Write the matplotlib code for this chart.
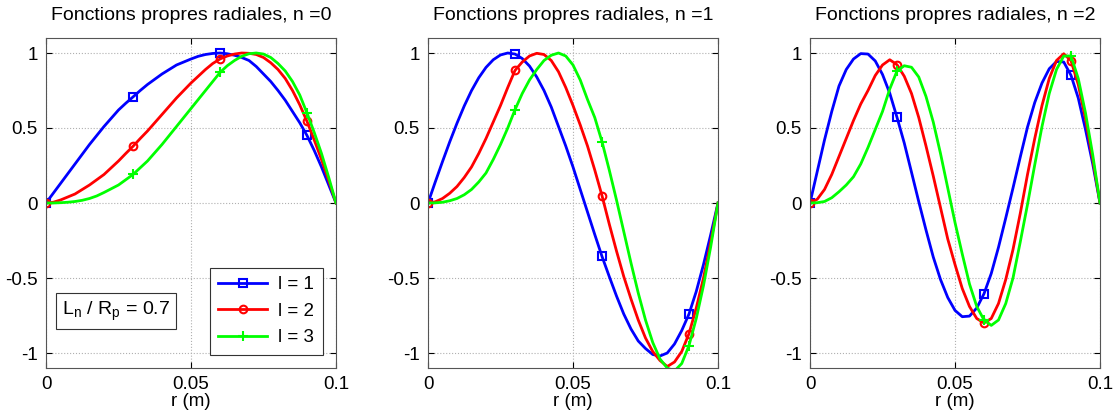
import matplotlib
matplotlib.use("Agg")
import matplotlib.pyplot as plt
import numpy as np

plt.rcParams['font.family'] = ['Liberation Sans', 'DejaVu Sans']

# radius samples (m), every 2.5 mm
r = np.linspace(0, 0.1, 41)
marker_r = [0, 0.03, 0.06, 0.09]

# n = 0
n0_l1 = [0, 0.065, 0.13, 0.195, 0.26, 0.325, 0.39, 0.45, 0.51, 0.565,
         0.62, 0.665, 0.707, 0.75, 0.79, 0.825, 0.86, 0.89, 0.92, 0.94,
         0.96, 0.978, 0.99, 0.997, 1.0, 0.995, 0.985, 0.97, 0.95, 0.91,
         0.86, 0.81, 0.75, 0.685, 0.61, 0.535, 0.45, 0.35, 0.24, 0.12,
         0]
n0_l2 = [0, 0.005, 0.02, 0.04, 0.06, 0.09, 0.12, 0.155, 0.19, 0.235,
         0.28, 0.33, 0.378, 0.43, 0.48, 0.535, 0.59, 0.645, 0.70, 0.75,
         0.80, 0.845, 0.89, 0.93, 0.96, 0.98, 0.993, 1.0, 0.998, 0.99,
         0.97, 0.935, 0.89, 0.83, 0.75, 0.655, 0.544, 0.42, 0.29, 0.15,
         0]
n0_l3 = [0, 0.0, 0.002, 0.005, 0.01, 0.018, 0.03, 0.047, 0.07, 0.095,
         0.12, 0.155, 0.19, 0.235, 0.28, 0.335, 0.39, 0.45, 0.51, 0.57,
         0.63, 0.69, 0.75, 0.81, 0.87, 0.915, 0.95, 0.978, 0.995, 1.0,
         0.993, 0.97, 0.93, 0.88, 0.81, 0.72, 0.60, 0.47, 0.33, 0.17,
         0]

# n = 1
n1_l1 = [0, 0.14, 0.276, 0.408, 0.532, 0.647, 0.749, 0.835, 0.904, 0.955,
         0.987, 1.0, 0.993, 0.963, 0.913, 0.84, 0.75, 0.64, 0.51, 0.38,
         0.24, 0.09, -0.06, -0.21, -0.356, -0.49, -0.62, -0.74, -0.84, -0.92,
         -0.97, -1.01, -1.02, -1.0, -0.94, -0.85, -0.74, -0.59, -0.41, -0.21,
         0]
n1_l2 = [0, 0.008, 0.03, 0.065, 0.11, 0.17, 0.24, 0.33, 0.43, 0.54,
         0.65, 0.77, 0.884, 0.94, 0.98, 0.998, 0.99, 0.95, 0.875, 0.77,
         0.65, 0.52, 0.38, 0.22, 0.049, -0.14, -0.32, -0.49, -0.64, -0.78,
         -0.90, -0.99, -1.05, -1.09, -1.06, -0.99, -0.871, -0.70, -0.50, -0.26,
         0]
n1_l3 = [0, 0.001, 0.005, 0.015, 0.03, 0.055, 0.09, 0.14, 0.20, 0.29,
         0.39, 0.50, 0.622, 0.73, 0.82, 0.89, 0.95, 0.985, 1.0, 0.98,
         0.92, 0.82, 0.69, 0.57, 0.409, 0.22, 0.02, -0.19, -0.40, -0.60,
         -0.78, -0.93, -1.04, -1.10, -1.12, -1.07, -0.95, -0.77, -0.55, -0.29,
         0]

# n = 2
n2_l1 = [0, 0.21, 0.42, 0.61, 0.78, 0.89, 0.96, 0.996, 0.993, 0.947,
         0.857, 0.732, 0.571, 0.40, 0.205, 0.009, -0.18, -0.36, -0.51, -0.63,
         -0.716, -0.758, -0.754, -0.70, -0.605, -0.47, -0.295, -0.10, 0.10, 0.306,
         0.506, 0.67, 0.80, 0.895, 0.943, 0.94, 0.851, 0.70, 0.49, 0.26,
         0]
n2_l2 = [0, 0.025, 0.09, 0.19, 0.31, 0.43, 0.55, 0.66, 0.75, 0.85,
         0.92, 0.955, 0.922, 0.845, 0.73, 0.57, 0.38, 0.18, -0.03, -0.24,
         -0.41, -0.57, -0.69, -0.77, -0.80, -0.77, -0.67, -0.51, -0.31, -0.07,
         0.19, 0.43, 0.65, 0.83, 0.95, 0.995, 0.949, 0.79, 0.56, 0.29,
         0]
n2_l3 = [0, 0.002, 0.01, 0.035, 0.075, 0.12, 0.175, 0.26, 0.37, 0.49,
         0.61, 0.76, 0.88, 0.915, 0.905, 0.84, 0.71, 0.54, 0.33, 0.10,
         -0.13, -0.34, -0.54, -0.69, -0.78, -0.816, -0.78, -0.67, -0.50, -0.26,
         -0.01, 0.255, 0.51, 0.73, 0.89, 0.98, 0.98, 0.83, 0.60, 0.32,
         0]

panels = [("Fonctions propres radiales, n =0", [n0_l1, n0_l2, n0_l3]),
          ("Fonctions propres radiales, n =1", [n1_l1, n1_l2, n1_l3]),
          ("Fonctions propres radiales, n =2", [n2_l1, n2_l2, n2_l3])]
labels = ["l = 1", "l = 2", "l = 3"]
colors = ["#0000ff", "#ff0000", "#00ff00"]
markers = ["s", "o", "+"]

mark_idx = [i for i, x in enumerate(r) if any(np.isclose(x, m) for m in marker_r)]

fig = plt.figure(figsize=(11.15, 4.19), dpi=100)
lefts = [46 / 1115, 428 / 1115, 810 / 1115]
for k, (title, curves) in enumerate(panels):
    ax = fig.add_axes([lefts[k], 51 / 419, 290 / 1115, 330 / 419])
    for y, c, m, lab in zip(curves, colors, markers, labels):
        ax.plot(r, y, color=c, lw=2, marker=m, markevery=mark_idx,
                mfc='none', mec=c, mew=1.5, ms=5.5 if m != "+" else 7, label=lab)
    ax.set_xlim(0, 0.1)
    ax.set_ylim(-1.1, 1.1)
    ax.set_xticks([0, 0.05, 0.1])
    ax.set_xticklabels(["0", "0.05", "0.1"])
    ax.set_yticks([-1, -0.5, 0, 0.5, 1])
    ax.set_yticklabels(["-1", "-0.5", "0", "0.5", "1"])
    ax.tick_params(direction='in', labelsize=13.5, length=4, width=0.8, pad=6,
                   top=True, right=True)
    ax.grid(True, ls=':', color='#b0b0b0', lw=0.8)
    for s in ax.spines.values():
        s.set_color('#555555')
        s.set_linewidth(0.8)
    ax.set_xlabel("r (m)", fontsize=13.5, labelpad=0)
    ax.set_title(title, fontsize=14, pad=13)
    if k == 0:
        leg = ax.legend(loc='lower right', fontsize=13.5, fancybox=False,
                        edgecolor='#333333', framealpha=1, handlelength=2.6,
                        borderaxespad=0.7, handletextpad=0.6, labelspacing=0.5,
                        borderpad=0.45)
        leg.get_frame().set_linewidth(0.8)
        ax.text(0.0055, -0.72, r"L$_\mathregular{n}$ / R$_\mathregular{p}$ = 0.7",
                fontsize=14, va='center', ha='left',
                bbox=dict(boxstyle='square,pad=0.3', fc='white', ec='#333333', lw=0.8))

plt.savefig("out.png", dpi=100)
